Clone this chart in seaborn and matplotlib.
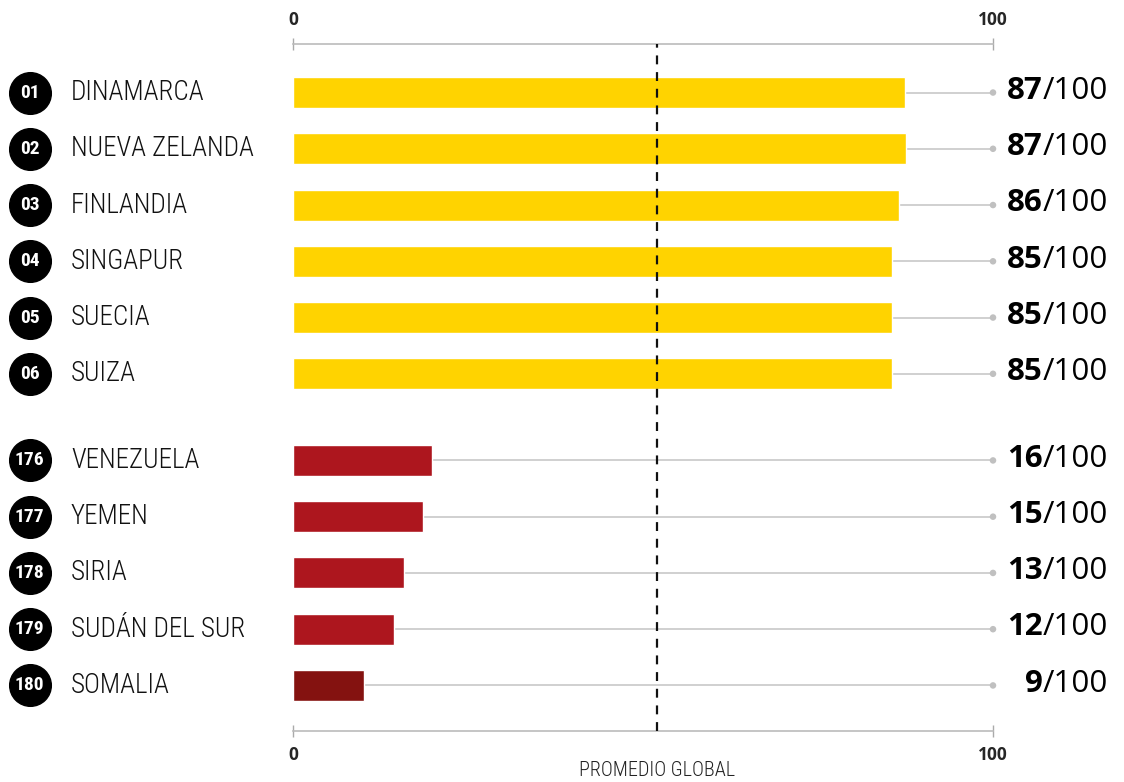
import numpy as np
import pandas as pd
import matplotlib
matplotlib.use("Agg")
import matplotlib.pyplot as plt
import seaborn as sns
from matplotlib import font_manager

# data
ranks = ["01", "02", "03", "04", "05", "06", "176", "177", "178", "179", "180"]
countries = ["DINAMARCA", "NUEVA ZELANDA", "FINLANDIA", "SINGAPUR", "SUECIA", "SUIZA",
             "VENEZUELA", "YEMEN", "SIRIA", "SUDÁN DEL SUR", "SOMALIA"]
scores = [87, 87, 86, 85, 85, 85, 16, 15, 13, 12, 9]
bar_len = [87.4, 87.6, 86.6, 85.6, 85.6, 85.6, 19.9, 18.5, 15.8, 14.4, 10.1]
group = ["top"] * 6 + ["bottom"] * 4 + ["last"]
global_avg = 52

palette = {"top": "#FFD300", "bottom": "#AD161E", "last": "#841210"}

installed = {f.name for f in font_manager.fontManager.ttflist}
narrow = [f for f in ["Roboto Condensed", "Open Sans Condensed", "Liberation Sans Narrow"]
          if f in installed]
cond = bool(narrow)
narrow = narrow + ["Roboto", "DejaVu Sans"]

sns.set_theme(style="white")
plt.rcParams["font.family"] = ["Open Sans", "DejaVu Sans"]

idx = np.arange(len(countries))
ypos = idx + np.where(idx >= 6, 0.54, 0.0)

df = pd.DataFrame({"country": countries, "len": bar_len, "group": group, "y": ypos})

fig = plt.figure(figsize=(11.24, 7.82), dpi=100)
ax = fig.add_axes([293 / 1124, 1 - 731 / 782, 700 / 1124, 687 / 782])

# grey guide lines behind the bars
ax.hlines(ypos, 0, 100, color="#c8c8c8", lw=1.2, zorder=0)
sns.scatterplot(x=np.full(len(ypos), 100), y=ypos, color="#c0c0c0", s=22,
                edgecolor="none", ax=ax, zorder=1, clip_on=False)

sns.barplot(data=df, x="len", y="y", hue="group", palette=palette, orient="y",
            native_scale=True, dodge=False, width=0.55, legend=False,
            saturation=1, ax=ax, zorder=2)

ax.axvline(global_avg, color="#111111", lw=1.6, ls=(0, (4, 3.5)), zorder=3)

ax.set_xlim(0, 100)
ax.set_ylim(11.35, -0.863)
ax.set_xlabel("")
ax.set_ylabel("")
ax.set_yticks([])
ax.set_xticks([0, 100])
ax.set_xticklabels(["0", "100"], fontweight="bold", fontsize=12.5)
ax.tick_params(axis="x", top=True, bottom=True, labeltop=True, labelbottom=True,
               direction="inout", length=8, width=1, color="#aaaaaa", pad=7)
for s in ["left", "right"]:
    ax.spines[s].set_visible(False)
for s in ["top", "bottom"]:
    ax.spines[s].set_color("#bbbbbb")
    ax.spines[s].set_linewidth(1.2)

def px(x):
    return (x - 293) / 7.0

name_size = 19.5 if cond else 17.5

# rank badges
ax.scatter(np.full(len(ypos), px(29.5)), ypos, s=900, color="black", clip_on=False, zorder=4)
for y, r, c, v in zip(ypos, ranks, countries, scores):
    ax.text(px(29.5), y, r, ha="center", va="center", color="white",
            fontsize=14 if cond else (11 if len(r) < 3 else 10),
            fontweight="bold", family=narrow, zorder=5, clip_on=False)
    ax.text(px(71), y, c, ha="left", va="center", color="#111111", fontsize=name_size,
            fontweight="light", family=narrow, clip_on=False)
    ax.text(px(1043), y - 0.03, str(v), ha="right", va="center", color="black",
            fontsize=22.5, fontweight="bold", clip_on=False)
    ax.text(px(1043), y - 0.03, "/100", ha="left", va="center", color="black",
            fontsize=22.5, clip_on=False)

ax.text(global_avg, -0.058, "PROMEDIO GLOBAL", transform=ax.get_xaxis_transform(),
        ha="center", va="center", fontsize=14.5, fontweight="light", family=narrow,
        color="#222222")

fig.savefig("out.png", dpi=100)
